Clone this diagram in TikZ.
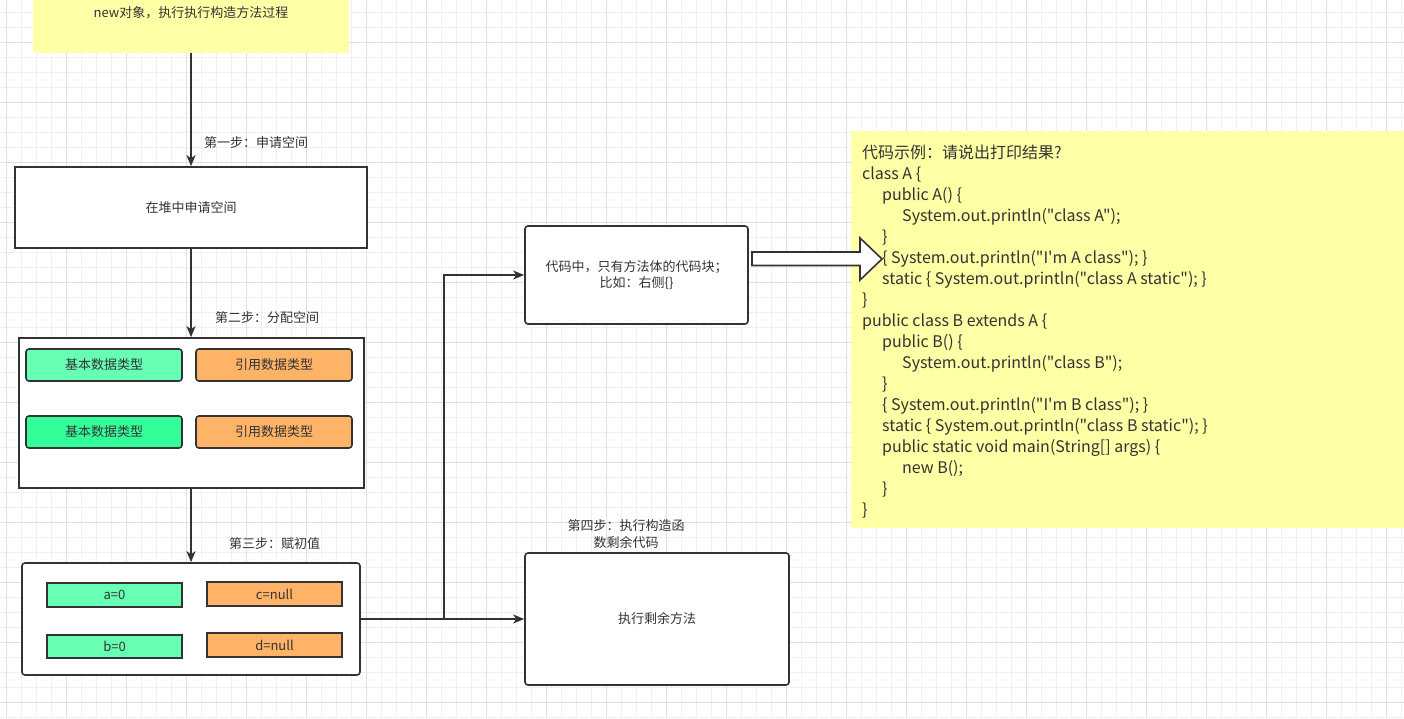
\documentclass[tikz,border=0pt]{standalone}
\usepackage{fontspec}
\setmainfont{Noto Sans CJK SC}
\newfontfamily\codefont{Noto Sans CJK SC}
\usetikzlibrary{arrows.meta}
\definecolor{ink}{HTML}{333333}
\definecolor{note}{HTML}{FFFFA6}
\definecolor{gA}{HTML}{66FFB3}
\definecolor{gB}{HTML}{33FF99}
\definecolor{orng}{HTML}{FFB366}
\definecolor{gminor}{HTML}{F0F0F0}
\definecolor{gmajor}{HTML}{E0E0E0}
\tikzset{
  x=1pt, y=-1pt,
  txt/.style={font=\fontsize{13pt}{15.5pt}\selectfont, text=ink},
  box/.style={draw=ink, line width=1.6pt, fill=white, inner sep=0pt, txt},
  rbox/.style={box, rounded corners=3pt},
  cell/.style={draw=ink, line width=1.6pt, inner sep=0pt, txt},
  rcell/.style={cell, rounded corners=3pt},
  arr/.style={draw=ink, line width=1.6pt, -{Stealth[length=11pt,width=9pt,inset=3pt]}},
  lbl/.style={txt, inner sep=0pt},
}
\begin{document}
\begin{tikzpicture}
\clip (0,0) rectangle (1404,718);
\fill[white] (0,0) rectangle (1404,718);
% grid
\foreach \i in {0,...,93} {\draw[gminor, line width=0.9pt] ({6.667+15*\i},0) -- ({6.667+15*\i},718);}
\foreach \i in {0,...,47} {\draw[gminor, line width=0.9pt] (0,{12.333+15*\i}) -- (1404,{12.333+15*\i});}
\foreach \i in {0,...,23} {\draw[gmajor, line width=0.9pt] ({6.667+60*\i},0) -- ({6.667+60*\i},718);}
\foreach \i in {0,...,11} {\draw[gmajor, line width=0.9pt] (0,{42.333+60*\i}) -- (1404,{42.333+60*\i});}

% top note
\node[fill=note, inner sep=0pt, minimum width=316pt, minimum height=80pt, txt] (top) at (191,13) {new对象，执行执行构造方法过程};

% step boxes
\node[box, minimum width=352pt, minimum height=81pt] (heap) at (191,207.5) {在堆中申请空间};
\node[box, minimum width=345pt, minimum height=150pt] (alloc) at (191.5,413) {};
\node[rcell, fill=gA, minimum width=156pt, minimum height=32pt] (g1) at (104,365) {基本数据类型};
\node[rcell, fill=orng, minimum width=156pt, minimum height=32pt] (o1) at (274,365) {引用数据类型};
\node[rcell, fill=gB, minimum width=156pt, minimum height=32pt] (g2) at (104,432) {基本数据类型};
\node[rcell, fill=orng, minimum width=156pt, minimum height=32pt] (o2) at (274,432) {引用数据类型};

\node[rbox, minimum width=338pt, minimum height=112pt] (init) at (191,619) {};
\node[cell, fill=gA, minimum width=135pt, minimum height=24pt] (va) at (114.5,595) {a=0};
\node[cell, fill=orng, minimum width=135pt, minimum height=24pt] (vc) at (274.5,594) {c=null};
\node[cell, fill=gA, minimum width=135pt, minimum height=23pt] (vb) at (114.5,646.5) {b=0};
\node[cell, fill=orng, minimum width=135pt, minimum height=24pt] (vd) at (274.5,645) {d=null};

\node[rbox, minimum width=223pt, minimum height=98pt, align=center] (block) at (636.5,275) {\raisebox{-1pt}{代码中，只有方法体的代码块；}\\\raisebox{-1pt}{比如：右侧\{\}}};
\node[rbox, minimum width=264pt, minimum height=132pt] (rest) at (657,619) {执行剩余方法};

% labels
\node[lbl, anchor=west] (l1) at (204,143) {第一步：申请空间};
\node[lbl, anchor=west] (l2) at (215,318) {第二步：分配空间};
\node[lbl, anchor=west] (l3) at (229,544) {第三步：赋初值};
\node[lbl, align=center, font=\fontsize{13pt}{17pt}\selectfont] (l4) at (626,534.5) {第四步：执行构造函\\数剩余代码};

% connectors
\draw[arr] (top.south) -- (top.south |- heap.north);
\draw[arr] (heap.south) -- (heap.south |- alloc.north);
\draw[arr] (alloc.south -| heap.south) -- (heap.south |- init.north);
\draw[arr] (init.east) -- (rest.west);
\draw[arr] (init.east) -- ++(83,0) coordinate (bend) |- (block.west);

% code note
\node[fill=note, inner sep=0pt, minimum width=560pt, minimum height=397pt] (code) at (1131,329.5) {};
\node[anchor=north west, inner sep=0pt, align=left, text=ink, font=\codefont\fontsize{16pt}{21pt}\selectfont] (codetext) at (862,144.5) {%
代码示例：请说出打印结果?\\
class A \{\\
\hspace*{20pt}public A() \{\\
\hspace*{40pt}System.out.println("class A");\\
\hspace*{20pt}\}\\
\hspace*{20pt}\{ System.out.println("I'm A class"); \}\\
\hspace*{20pt}static \{ System.out.println("class A static"); \}\\
\}\\
public class B extends A \{\\
\hspace*{20pt}public B() \{\\
\hspace*{40pt}System.out.println("class B");\\
\hspace*{20pt}\}\\
\hspace*{20pt}\{ System.out.println("I'm B class"); \}\\
\hspace*{20pt}static \{ System.out.println("class B static"); \}\\
\hspace*{20pt}public static void main(String[] args) \{\\
\hspace*{40pt}new B();\\
\hspace*{20pt}\}\\
\}};

% block arrow (from the code-block box towards the code example)
\draw[draw=ink, line width=1.6pt, fill=white, line join=miter]
  (752,252) -- (860,252) -- (860,238) -- (882,259) -- (860,280) -- (860,265.5) -- (752,265.5) -- cycle;
\end{tikzpicture}
\end{document}
